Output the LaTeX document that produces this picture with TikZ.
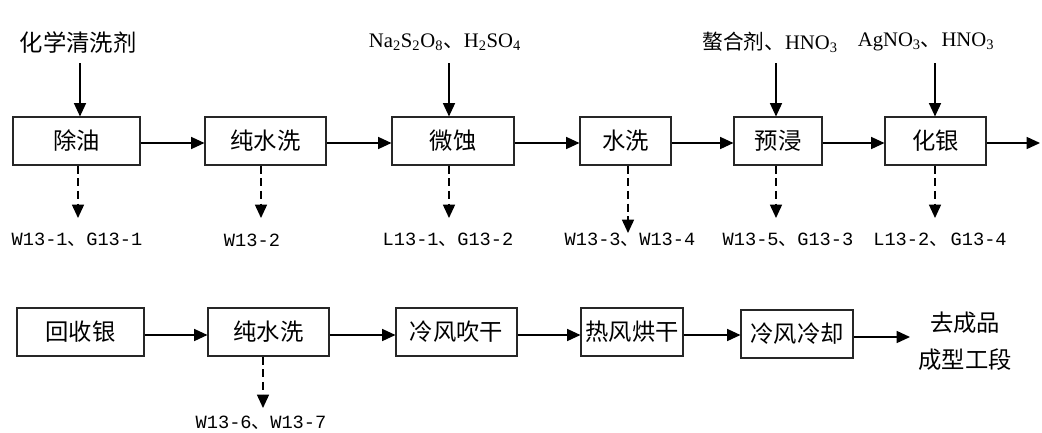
\documentclass[tikz,border=0pt]{standalone}
\usepackage{fontspec}
\setmainfont{Liberation Serif}
\newfontfamily\cjk{Noto Sans CJK SC}
\newfontfamily\mono{Liberation Mono}
\usetikzlibrary{arrows.meta}
\begin{document}
\begin{tikzpicture}[x=0.75pt,y=-0.75pt,
 box/.style={draw=black!85, line width=0.8pt, minimum height=48*0.75pt, inner sep=0pt,
   minimum width=#1*0.75pt, font=\cjk\fontsize{17.5}{19}\selectfont},
 arr/.style={line width=1.1pt, -{Triangle[length=10pt,width=9pt]}},
 darr/.style={arr, dash pattern=on 6pt off 3.5pt},
 cn/.style={font=\cjk\fontsize{17.5}{19}\selectfont, inner sep=0pt},
 lab/.style={font=\mono\fontsize{14}{16}\selectfont, inner sep=0pt},
 chem/.style={font=\fontsize{15.5}{18}\selectfont, inner sep=0pt}]
\useasboundingbox (0,0) rectangle (1042,432);

% top row boxes
\node[box=127] (b1) at (76.5,141) {除油};
\node[box=121] (b2) at (265.5,141) {纯水洗};
\node[box=122] (b3) at (453,141) {微蚀};
\node[box=91]  (b4) at (625.5,141) {水洗};
\node[box=88]  (b5) at (778,141) {预浸};
\node[box=101] (b6) at (935.5,141) {化银};
\coordinate (r1) at (0,143);
\coordinate (out1) at (1040,143);

% top inputs
\node[cn] (i1) at (78,43) {化学清洗剂};
\node[chem] (i3) at (445,42) {Na\textsubscript{2}S\textsubscript{2}O\textsubscript{8}{\cjk 、}H\textsubscript{2}SO\textsubscript{4}};
\node[chem] (i5) at (770,42) {{\cjk 螯合剂、}HNO\textsubscript{3}};
\node[chem] (i6) at (926,42) {AgNO\textsubscript{3}{\cjk 、}HNO\textsubscript{3}};
\coordinate (t1) at (80,63);
\coordinate (t3) at (449,63);
\coordinate (t5) at (776,63);
\coordinate (t6) at (935,63);
\foreach \t/\b in {t1/b1,t3/b3,t5/b5,t6/b6}
  \draw[arr] (\t) -- (\t |- \b.north);

% horizontal arrows top row
\foreach \a/\b in {b1/b2,b2/b3,b3/b4,b4/b5,b5/b6}
  \draw[arr] (\a.east |- r1) -- (\b.west |- r1);
\draw[arr] (b6.east |- out1) -- (out1);

% outputs top row
\coordinate (d1) at (78,218);
\coordinate (d2) at (261,218);
\coordinate (d3) at (449,218);
\coordinate (d4) at (628,233);
\coordinate (d5) at (776,218);
\coordinate (d6) at (935,218);
\foreach \d/\b in {d1/b1,d2/b2,d3/b3,d4/b4,d5/b5,d6/b6}
  \draw[darr] (\d |- \b.south) -- (\d);
\node[lab] (o1) at (77,240) {W13-1{\cjk 、}G13-1};
\node[lab] (o2) at (252,240) {W13-2};
\node[lab] (o3) at (448,240) {L13-1{\cjk 、}G13-2};
\node[lab] (o4) at (630,240) {W13-3{\cjk 、}W13-4};
\node[lab] (o5) at (788,240) {W13-5{\cjk 、}G13-3};
\node[lab] (o6) at (940,240) {L13-2{\cjk 、}\hspace{2pt}G13-4};

% bottom row
\node[box=127] (c1) at (80.5,332) {回收银};
\node[box=121] (c2) at (268.5,332) {纯水洗};
\node[box=121] (c3) at (456.5,332) {冷风吹干};
\node[box=102] (c4) at (632,332) {热风烘干};
\node[box=112] (c5) at (797,334) {冷风冷却};
\node[cn, align=center, font=\cjk\fontsize{17.5}{27.75}\selectfont] (f) at (965,341) {去成品\\成型工段};
\coordinate (r2) at (0,335);
\coordinate (out2) at (910,337);
\foreach \a/\b in {c1/c2,c2/c3,c3/c4,c4/c5}
  \draw[arr] (\a.east |- r2) -- (\b.west |- r2);
\draw[arr] (c5.east |- out2) -- (out2);

\coordinate (d7) at (263,408);
\draw[darr] (d7 |- c2.south) -- (d7);
\node[lab] (o7) at (261,423) {W13-6{\cjk 、}W13-7};
\end{tikzpicture}
\end{document}
